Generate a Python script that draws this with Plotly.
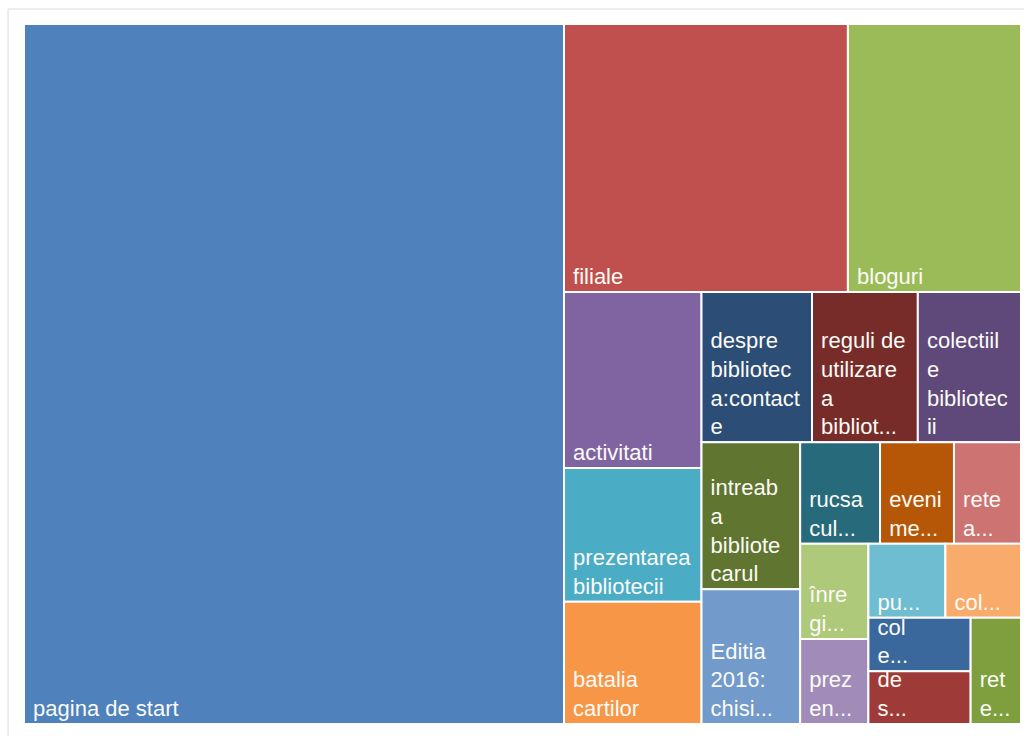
import plotly.graph_objects as go

labels = [
    "pagina de start", "filiale", "bloguri", "activitati",
    "prezentarea bibliotecii", "batalia cartilor",
    "despre biblioteca:contacte", "reguli de utilizare a bibliot...",
    "colectiile bibliotecii", "intreaba bibliotecarul", "Editia 2016: chisi...",
    "rucsa cul...", "eveni me...", "rete a...", "înre gi...", "prez en...",
    "pu...", "col...", "col e...", "de s...", "ret e...",
]
# wrapped label lines as shown in each cell
display_lines = [
    ["pagina de start"], ["filiale"], ["bloguri"], ["activitati"],
    ["prezentarea", "bibliotecii"], ["batalia", "cartilor"],
    ["despre", "bibliotec", "a:contact", "e"], ["reguli de", "utilizare", "a", "bibliot..."],
    ["colectiil", "e", "bibliotec", "ii"], ["intreab", "a", "bibliote", "carul"],
    ["Editia", "2016:", "chisi..."],
    ["rucsa", "cul..."], ["eveni", "me..."], ["rete", "a..."], ["înre", "gi..."], ["prez", "en..."],
    ["pu..."], ["col..."], ["col", "e..."], ["de", "s..."], ["ret", "e..."],
]
values = [
    3780, 761, 464, 242, 184, 168, 166, 159, 155, 145, 133,
    81, 75, 68, 65, 58, 57, 56, 54.6, 54.0, 53.5,
]
colors = [
    "#4F81BD", "#C0504D", "#9BBB59", "#8064A2", "#4BACC6", "#F79646",
    "#2C4D75", "#772C2A", "#5F497A", "#5F7530", "#729ACA",
    "#276A7C", "#B65708", "#CD7371", "#AFC97A", "#A18CB9",
    "#6FBDD1", "#F9AB6B", "#3A679C", "#9E3B38", "#7F9F3F",
]
parents = [""] * len(labels)

# small left inset, like the original labels
display_text = ["<br>".join("\u00a0" + ln for ln in lines) for lines in display_lines]

fig = go.Figure(go.Treemap(
    labels=labels,
    parents=parents,
    values=values,
    text=display_text,
    texttemplate="%{text}",
    textposition="bottom left",
    textfont=dict(family="Liberation Sans, Arial, sans-serif", size=22, color="#fbfbf6"),
    marker=dict(colors=colors, line=dict(width=2, color="#ffffff"),
                pad=dict(t=0, l=0, r=0, b=0)),
    tiling=dict(packing="squarify", pad=0),
    pathbar=dict(visible=False),
    sort=True,
    hoverinfo="label+value",
))

fig.update_layout(
    width=1024, height=736,
    margin=dict(l=24, r=3, t=24, b=12),
    paper_bgcolor="#ffffff",
    uniformtext=dict(minsize=22, mode="show"),
    shapes=[
        dict(type="line", xref="paper", yref="paper", x0=-0.016, x1=1.01, y0=1.0214, y1=1.0214,
             line=dict(color="#dcdcdc", width=1), layer="below"),
        dict(type="line", xref="paper", yref="paper", x0=-0.016, x1=-0.016, y0=1.0214, y1=-0.02,
             line=dict(color="#dcdcdc", width=1), layer="below"),
    ],
)

fig.write_html("out.html", config={"displayModeBar": False},
               post_script="document.body.style.margin='0';")
